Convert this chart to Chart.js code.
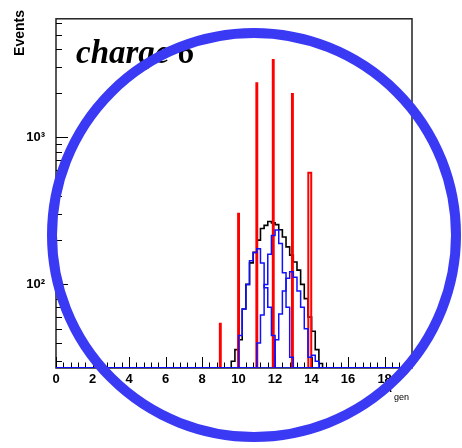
<!DOCTYPE html>
<html>
<head>
<meta charset="utf-8">
<script src="https://cdn.jsdelivr.net/npm/chart.js@4.4.0/dist/chart.umd.min.js"></script>
<style>
body { margin: 0; background: #fff; }
canvas { display: block; }
</style>
</head>
<body>
<canvas id="grafico" width="462" height="448"></canvas>
<script>
// histogram bins (A_gen), 0.2 wide starting at 9.6
const binLow = 9.6;
const binWidth = 0.2;
const totalCounts = [30, 36, 42, 68, 100, 140, 165, 200, 240, 252, 268, 262, 255, 235, 210, 180, 158, 142, 125, 100, 80, 60, 48, 36, 29, 0];
const blueCounts1 = [0, 0, 45, 68, 100, 145, 165, 175, 140, 95, 70, 45, 0, 0, 0, 0, 0, 0, 0, 0, 0, 0, 0, 0, 0, 0];
const blueCounts2 = [0, 0, 0, 0, 0, 0, 0, 40, 62, 100, 160, 215, 234, 190, 120, 70, 32, 0, 0, 0, 0, 0, 0, 0, 0, 0];
const blueCounts3 = [0, 0, 0, 0, 0, 0, 0, 0, 0, 0, 0, 0, 42, 63, 90, 110, 122, 112, 90, 70, 50, 32, 33, 30, 0, 0];

// generated isotopes (red spikes)
const redA = [9, 10, 11, 11.9, 12.95, 13.9];
const redCounts = [54, 302, 2330, 3360, 1970, 575];

// axes
const xMin = 0, xMax = 19.5;
const xMajorTicks = [0, 2, 4, 6, 8, 10, 12, 14, 16, 18];
const yMin = 27, yMax = 6400;
const yMajorTicks = [100, 1000];
const yMajorLabels = ['10²', '10³'];

// like ROOT, anything below the axis minimum sits on the bottom of the frame
const floorY = v => Math.max(v, yMin);

function histPoints(counts) {
    const pts = [{ x: xMin, y: yMin }, { x: binLow, y: yMin }];
    counts.forEach((c, i) => pts.push({ x: binLow + i * binWidth, y: floorY(c) }));
    pts.push({ x: binLow + counts.length * binWidth, y: yMin });
    pts.push({ x: xMax, y: yMin });
    return pts;
}

function spikePoints() {
    const pts = [];
    redA.forEach((a, i) => {
        // last spike is a bit wider so it shows open
        const hw = i === redA.length - 1 ? 0.08 : 0.025;
        pts.push({ x: a - hw, y: yMin }, { x: a - hw, y: redCounts[i] }, { x: a + hw, y: yMin }, { x: a + hw, y: null });
    });
    return pts;
}

// tick positions: minor every 0.4, y minor at each 1..9 of the decade
const xTicks = [];
for (let k = 0; k * 0.4 <= xMax + 1e-9; k++) xTicks.push(Math.round(k * 4) / 10);
const yTicks = [];
[10, 100, 1000].forEach(d => {
    for (let m = 1; m < 10; m++) {
        const v = m * d;
        if (v >= yMin && v <= yMax) yTicks.push(v);
    }
});

const extras = {
    id: 'extras',
    beforeDatasetsDraw(chart) {
        const ctx = chart.ctx;
        const area = chart.chartArea;
        const xs = chart.scales.x, ys = chart.scales.y;
        ctx.save();
        // frame
        ctx.strokeStyle = '#222';
        ctx.lineWidth = 1.5;
        ctx.strokeRect(area.left, area.top, area.right - area.left, area.bottom - area.top);
        // tick marks, drawn inward
        ctx.lineWidth = 1;
        ctx.strokeStyle = '#000';
        ctx.beginPath();
        xs.ticks.forEach(t => {
            const px = Math.round(xs.getPixelForValue(t.value)) + 0.5;
            const len = xMajorTicks.includes(t.value) ? 11 : 5.5;
            ctx.moveTo(px, area.bottom);
            ctx.lineTo(px, area.bottom - len);
        });
        ys.ticks.forEach(t => {
            const py = Math.round(ys.getPixelForValue(t.value)) + 0.5;
            const len = yMajorTicks.includes(t.value) ? 12 : 6;
            ctx.moveTo(area.left, py);
            ctx.lineTo(area.left + len, py);
        });
        ctx.stroke();
        ctx.restore();
    },
    afterDatasetsDraw(chart) {
        const ctx = chart.ctx;
        ctx.save();
        // axis titles
        ctx.fillStyle = '#000';
        ctx.save();
        ctx.translate(24, 10);
        ctx.rotate(-Math.PI / 2);
        ctx.font = 'bold 14px "Liberation Sans"';
        ctx.textAlign = 'right';
        ctx.textBaseline = 'alphabetic';
        ctx.fillText('Events', 0, 0);
        ctx.restore();

        ctx.font = 'bold 11px "Liberation Sans"';
        ctx.textAlign = 'left';
        ctx.fillText('A', 384, 392);
        ctx.font = '9px "Liberation Sans"';
        ctx.fillText('gen', 394, 400);

        // label
        ctx.font = 'bold italic 33px "Liberation Serif"';
        ctx.fillText('charge 6', 76, 63);

        // highlight circle
        ctx.strokeStyle = '#3a3af5';
        ctx.lineWidth = 10;
        ctx.beginPath();
        ctx.arc(254, 235, 202, 0, Math.PI * 2);
        ctx.stroke();
        ctx.restore();
    }
};

const ctx = document.getElementById('grafico').getContext('2d');
new Chart(ctx, {
    type: 'line',
    data: {
        datasets: [
            { data: histPoints(totalCounts), borderColor: '#000', borderWidth: 1.6, stepped: true, pointRadius: 0, order: 3 },
            { data: spikePoints(), borderColor: '#ff0000', borderWidth: 2, stepped: true, pointRadius: 0, spanGaps: false, order: 2 },
            { data: histPoints(blueCounts1), borderColor: '#1010ff', borderWidth: 1.5, stepped: true, pointRadius: 0, order: 1 },
            { data: histPoints(blueCounts2), borderColor: '#1010ff', borderWidth: 1.5, stepped: true, pointRadius: 0, order: 1 },
            { data: histPoints(blueCounts3), borderColor: '#1010ff', borderWidth: 1.5, stepped: true, pointRadius: 0, order: 1 }
        ]
    },
    options: {
        responsive: false,
        animation: false,
        layout: { padding: { left: 0, top: 12, right: 50, bottom: 0 } },
        plugins: { legend: { display: false }, tooltip: { enabled: false } },
        scales: {
            x: {
                type: 'linear',
                min: xMin,
                max: xMax,
                afterBuildTicks: s => { s.ticks = xTicks.map(v => ({ value: v })); },
                afterFit: s => { s.height = 80; },
                grid: { display: false, drawTicks: false },
                border: { display: false },
                ticks: {
                    autoSkip: false,
                    maxRotation: 0,
                    padding: 4,
                    color: '#000',
                    font: { family: 'Liberation Sans', size: 13, weight: 'bold' },
                    callback: v => xMajorTicks.includes(v) ? String(v) : ''
                }
            },
            y: {
                type: 'logarithmic',
                min: yMin,
                max: yMax,
                afterBuildTicks: s => { s.ticks = yTicks.map(v => ({ value: v })); },
                afterFit: s => { s.width = 56; },
                grid: { display: false, drawTicks: false },
                border: { display: false },
                ticks: {
                    autoSkip: false,
                    padding: 11,
                    color: '#000',
                    font: { family: 'Liberation Sans', size: 13, weight: 'bold' },
                    callback: v => {
                        const i = yMajorTicks.indexOf(v);
                        return i >= 0 ? yMajorLabels[i] : '';
                    }
                }
            }
        }
    },
    plugins: [extras]
});
</script>
</body>
</html>
